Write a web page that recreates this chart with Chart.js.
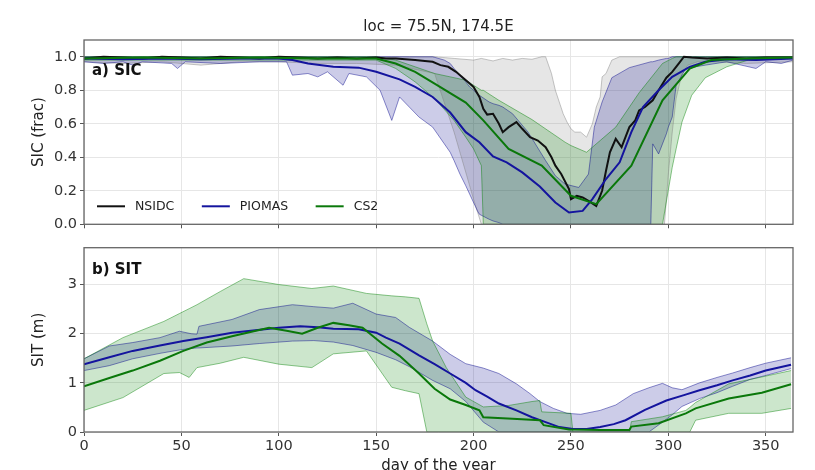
<!DOCTYPE html>
<html>
<head>
<meta charset="utf-8">
<script src="https://cdn.jsdelivr.net/npm/chart.js@4.4.1/dist/chart.umd.min.js"></script>
<style>
  html, body { margin: 0; padding: 0; background: #fff; overflow: hidden; width: 815px; height: 470px; }
  canvas { position: absolute; left: 0; }
  #sic { top: 0; }
  #sit { top: 236px; }
</style>
</head>
<body>
<canvas id="sic" width="815" height="236"></canvas>
<canvas id="sit" width="815" height="240"></canvas>
<script>
// ---- a) SIC ----
const nsidcDays = [0,10,20,30,40,50,60,70,80,90,100,110,120,130,140,150,155,160,165,170,175,179,183,187,191,195,198,200,203,205,207,210,213,215,218,222,225,229,233,237,240,242,245,249,250,253,256,259,263,266,268,270,273,276,278,280,283,285,288,292,295,299,302,304,306,308,312,320,330,340,350,364];
const nsidcSic = [0.99,1.0,0.995,0.99,1.0,0.995,0.99,1.0,0.995,0.99,1.0,0.995,0.99,0.995,0.99,0.995,0.99,0.99,0.985,0.98,0.975,0.97,0.95,0.94,0.91,0.87,0.84,0.82,0.76,0.69,0.655,0.66,0.60,0.55,0.58,0.61,0.57,0.52,0.50,0.46,0.40,0.35,0.30,0.21,0.15,0.17,0.16,0.14,0.11,0.20,0.32,0.43,0.51,0.46,0.52,0.58,0.62,0.68,0.70,0.74,0.80,0.875,0.91,0.94,0.97,1.0,0.995,0.99,0.995,0.99,0.995,0.995];

const nsidcBandDays = [0,20,40,60,80,100,120,140,160,180,190,200,204,210,215,220,225,230,235,237,240,242,244,246,248,250,252,255,258,261,263,265,266,268,271,275,290,298,300,302,304,307,310,315,325,340,364];
const nsidcMax = [1,1,1,1,1,1,1,1,1,1,0.99,0.98,0.99,0.975,0.99,0.98,0.99,0.985,1.0,1.0,0.9,0.8,0.73,0.66,0.61,0.57,0.55,0.55,0.52,0.6,0.7,0.76,0.88,0.9,0.98,1,1,1,1,1,1,1,1,1,1,1,1];
const nsidcMin = [0.97,0.96,0.97,0.95,0.97,0.97,0.96,0.96,0.95,0.90,0.55,0.15,0,0,0,0,0,0,0,0,0,0,0,0,0,0,0,0,0,0,0,0,0,0,0,0,0,0,0.3,0.55,0.75,0.9,0.95,0.97,0.97,0.96,0.97];

const piomasDays = [0,20,40,60,80,100,107,115,128,141,150,162,170,179,188,196,203,210,217,225,234,242,249,256,261,268,275,281,287,295,302,311,319,330,345,364];
const piomasSic = [0.99,0.985,0.99,0.985,0.99,0.99,0.98,0.96,0.94,0.935,0.91,0.865,0.82,0.76,0.667,0.55,0.49,0.405,0.37,0.31,0.226,0.13,0.07,0.08,0.15,0.27,0.37,0.55,0.70,0.80,0.88,0.94,0.97,0.985,0.98,0.99];

const piomasBandDays = [0,10,20,25,30,45,48,52,70,90,104,107,115,120,125,133,136,145,152,158,162,167,172,179,185,188,190,193,196,198,202,203,208,210,213,215,220,228,237,242,247,254,259,262,266,271,280,291,292,295,299,300,302,304,309,319,330,345,350,358,364];
const piomasMax = [1,1,1,1,1,1,1,1,1,1,1,1,1,1,1,1,1,1,1,1,1,1,1,1,0.98,0.96,0.93,0.89,0.85,0.82,0.78,0.77,0.73,0.72,0.71,0.70,0.66,0.55,0.38,0.29,0.24,0.22,0.30,0.58,0.73,0.875,0.935,0.97,0.97,0.98,0.99,0.99,1,1,1,1,1,1,1,1,1];
const piomasMin = [0.97,0.96,0.97,0.95,0.97,0.96,0.93,0.97,0.96,0.97,0.97,0.89,0.90,0.88,0.91,0.83,0.90,0.88,0.80,0.62,0.76,0.70,0.64,0.58,0.48,0.43,0.38,0.30,0.23,0.18,0.08,0.06,0.03,0.02,0.01,0,0,0,0,0,0,0,0,0,0,0,0,0,0.48,0.42,0.54,0.58,0.64,0.83,0.93,0.95,0.97,0.93,0.97,0.96,0.98];

const cs2Days = [0,30,60,90,120,150,160,170,180,196,205,218,235,250,263,281,297,311,322,340,364];
const cs2Sic = [0.99,0.995,0.99,0.995,0.99,0.99,0.96,0.91,0.84,0.726,0.62,0.45,0.35,0.17,0.12,0.35,0.74,0.93,0.98,0.99,0.995];

const cs2BandDays = [0,50,100,150,160,170,180,190,196,200,204,205,213,230,247,250,258,273,285,297,302,304,307,312,319,330,341,364];
const cs2Max = [1,1,1,1,0.98,0.94,0.90,0.875,0.86,0.83,0.80,0.80,0.74,0.625,0.49,0.47,0.43,0.58,0.785,0.96,0.99,1,1,1,1,1,1,1];
const cs2Min = [0.98,0.98,0.98,0.98,0.93,0.85,0.75,0.62,0.52,0.45,0.35,0,0,0,0,0,0,0,0,0,0.34,0.45,0.61,0.77,0.875,0.94,0.98,0.99];

// ---- b) SIT ----
const piomasSitDays = [0,13,25,39,51,63,76,88,100,111,120,128,141,150,155,162,172,180,188,196,201,207,213,222,230,237,244,251,258,265,272,278,288,299,308,316,325,333,342,350,363];
const piomasSit = [1.38,1.52,1.65,1.76,1.85,1.93,2.02,2.07,2.12,2.15,2.13,2.10,2.09,2.02,1.92,1.80,1.56,1.38,1.19,1.00,0.85,0.72,0.58,0.44,0.30,0.20,0.10,0.06,0.06,0.10,0.16,0.24,0.45,0.64,0.75,0.85,0.95,1.05,1.15,1.25,1.37];

const piomasSitBandDays = [0,13,25,39,49,55,58,59,76,90,107,118,128,138,150,160,167,179,188,196,205,213,222,229,234,241,248,255,265,273,282,290,297,302,307,316,325,333,342,350,363];
const piomasSitMax = [1.49,1.75,1.82,1.92,2.05,2.0,1.99,2.15,2.29,2.49,2.59,2.55,2.52,2.62,2.40,2.33,2.13,1.85,1.58,1.39,1.30,1.19,0.98,0.78,0.62,0.48,0.38,0.36,0.44,0.55,0.78,0.90,0.99,0.90,0.86,1.0,1.11,1.20,1.31,1.40,1.51];
const piomasSitMin = [1.25,1.35,1.49,1.60,1.67,1.70,1.71,1.71,1.75,1.80,1.85,1.86,1.83,1.76,1.62,1.47,1.33,1.05,0.88,0.62,0.20,0,0,0,0,0,0,0,0,0,0,0,0.2,0.35,0.52,0.68,0.80,0.93,1.07,1.15,1.29];

const cs2SitDays = [0,13,25,39,51,63,76,86,95,104,112,120,128,136,143,153,162,172,180,188,196,203,205,220,234,236,249,265,280,281,295,309,314,331,348,363];
const cs2Sit = [0.93,1.1,1.25,1.45,1.65,1.82,1.95,2.04,2.12,2.06,2.00,2.12,2.22,2.17,2.12,1.80,1.55,1.19,0.88,0.66,0.55,0.44,0.30,0.27,0.24,0.14,0.05,0.04,0.04,0.11,0.18,0.38,0.48,0.68,0.80,0.97];

const cs2SitBandDays = [0,20,41,49,54,58,70,82,100,117,128,145,158,165,172,176,179,186,196,205,218,230,234,235,250,251,280,281,297,309,311,314,331,348,363];
const cs2SitMax = [1.49,1.92,2.25,2.41,2.51,2.59,2.86,3.12,3.0,2.92,2.97,2.82,2.77,2.75,2.72,2.2,1.85,1.31,0.71,0.51,0.54,0.62,0.64,0.41,0.38,0,0,0.21,0.31,0.44,0.5,0.6,0.98,1.12,1.25];
const cs2SitMin = [0.44,0.70,1.19,1.21,1.11,1.31,1.40,1.52,1.38,1.31,1.59,1.65,0.91,0.84,0.78,0,0,0,0,0,0,0,0,0,0,0,0,0,0,0,0,0.24,0.38,0.38,0.48];

const FONT = '"DejaVu Sans", sans-serif';
Chart.defaults.font.family = FONT;

const GRAY = 'rgba(128,128,128,';
const BLUE = 'rgba(0,0,139,';
const GREEN = 'rgba(0,128,0,';

const pts = (xs, ys) => xs.map((x, i) => ({ x, y: ys[i] }));

function line(label, days, vals, color) {
    return { label, data: pts(days, vals), borderColor: color, borderWidth: 2, pointRadius: 0, fill: false, tension: 0 };
}
function bandTop(days, vals, rgb) {
    return { data: pts(days, vals), borderColor: rgb + '0.45)', backgroundColor: rgb + '0.2)', borderWidth: 1, pointRadius: 0, fill: '+1', tension: 0 };
}
function bandBottom(days, vals, rgb) {
    return { data: pts(days, vals), borderColor: rgb + '0.45)', borderWidth: 1, pointRadius: 0, fill: false, tension: 0 };
}

// frame, panel label and in-axes legend
const panelDecor = {
    id: 'panelDecor',
    afterDraw(chart, args, opts) {
        const { ctx, chartArea: a } = chart;
        ctx.save();
        ctx.strokeStyle = '#666';
        ctx.lineWidth = 1.3;
        ctx.strokeRect(a.left, a.top, a.right - a.left, a.bottom - a.top);

        ctx.fillStyle = '#111';
        ctx.textBaseline = 'middle';
        ctx.font = 'bold 15px ' + FONT;
        ctx.fillText(opts.label, a.left + 8, a.top + opts.labelY);

        if (opts.legend) {
            ctx.font = '12.5px ' + FONT;
            ctx.fillStyle = '#222';
            let x = a.left + 13;
            const y = a.bottom - 18;
            opts.legend.forEach(i => {
                const ds = chart.data.datasets[i];
                ctx.strokeStyle = ds.borderColor;
                ctx.lineWidth = 2;
                ctx.beginPath();
                ctx.moveTo(x, y);
                ctx.lineTo(x + 28, y);
                ctx.stroke();
                ctx.fillText(ds.label, x + 38, y);
                x += 38 + ctx.measureText(ds.label).width + 27.5;
            });
        }
        ctx.restore();
    }
};

function xScale(showLabels) {
    return {
        type: 'linear', min: 0, max: 364,
        afterFit: s => { s.height = showLabels ? 44 : 11; },
        grid: { color: '#e6e6e6', tickColor: '#555', tickLength: 4 },
        border: { display: false },
        ticks: { display: showLabels, stepSize: 50, includeBounds: false, padding: 2, color: '#333', font: { size: 14.5 }, maxRotation: 0 },
        title: { display: showLabels, text: 'day of the year', color: '#222', font: { size: 15 }, padding: { top: 0, bottom: 1 } }
    };
}

function yScale(max, step, title, fmt) {
    return {
        type: 'linear', min: 0, max,
        afterFit: s => { s.width = 84; },
        grid: { color: '#e6e6e6', tickColor: '#555', tickLength: 4 },
        border: { display: false },
        ticks: { stepSize: step, includeBounds: false, padding: 3, color: '#333', font: { size: 14.5 }, callback: fmt },
        title: { display: true, text: title, color: '#222', font: { size: 15 }, padding: { top: 30, bottom: 0 } }
    };
}

const common = {
    animation: false,
    responsive: false,
    devicePixelRatio: 1,
    events: []
};

new Chart(document.getElementById('sic'), {
    type: 'line',
    data: {
        datasets: [
            line('CS2', cs2Days, cs2Sic, '#0a780a'),
            line('PIOMAS', piomasDays, piomasSic, '#14149e'),
            line('NSIDC', nsidcDays, nsidcSic, '#111111'),
            bandTop(cs2BandDays, cs2Max, GREEN),
            bandBottom(cs2BandDays, cs2Min, GREEN),
            bandTop(piomasBandDays, piomasMax, BLUE),
            bandBottom(piomasBandDays, piomasMin, BLUE),
            bandTop(nsidcBandDays, nsidcMax, GRAY),
            bandBottom(nsidcBandDays, nsidcMin, GRAY)
        ]
    },
    options: {
        ...common,
        layout: { padding: { top: 0, right: 22, left: 0, bottom: 0 } },
        scales: {
            x: xScale(false),
            y: yScale(1.1, 0.2, 'SIC (frac)', v => v.toFixed(1))
        },
        plugins: {
            legend: { display: false },
            tooltip: { enabled: false },
            filler: { drawTime: 'beforeDatasetsDraw' },
            title: {
                display: true, text: 'loc = 75.5N, 174.5E', fullSize: false,
                color: '#222', font: { size: 15, weight: 'normal' },
                padding: { top: 18.5, bottom: 3.5 }
            },
            panelDecor: { label: 'a) SIC', labelY: 31, legend: [2, 1, 0] }
        }
    },
    plugins: [panelDecor]
});

new Chart(document.getElementById('sit'), {
    type: 'line',
    data: {
        datasets: [
            line('CS2', cs2SitDays, cs2Sit, '#0a780a'),
            line('PIOMAS', piomasSitDays, piomasSit, '#14149e'),
            bandTop(cs2SitBandDays, cs2SitMax, GREEN),
            bandBottom(cs2SitBandDays, cs2SitMin, GREEN),
            bandTop(piomasSitBandDays, piomasSitMax, BLUE),
            bandBottom(piomasSitBandDays, piomasSitMin, BLUE)
        ]
    },
    options: {
        ...common,
        layout: { padding: { top: 10, right: 22, left: 0, bottom: 0 } },
        scales: {
            x: xScale(true),
            y: yScale(3.75, 1, 'SIT (m)', v => String(v))
        },
        plugins: {
            legend: { display: false },
            tooltip: { enabled: false },
            filler: { drawTime: 'beforeDatasetsDraw' },
            panelDecor: { label: 'b) SIT', labelY: 22 }
        }
    },
    plugins: [panelDecor]
});
</script>
</body>
</html>
